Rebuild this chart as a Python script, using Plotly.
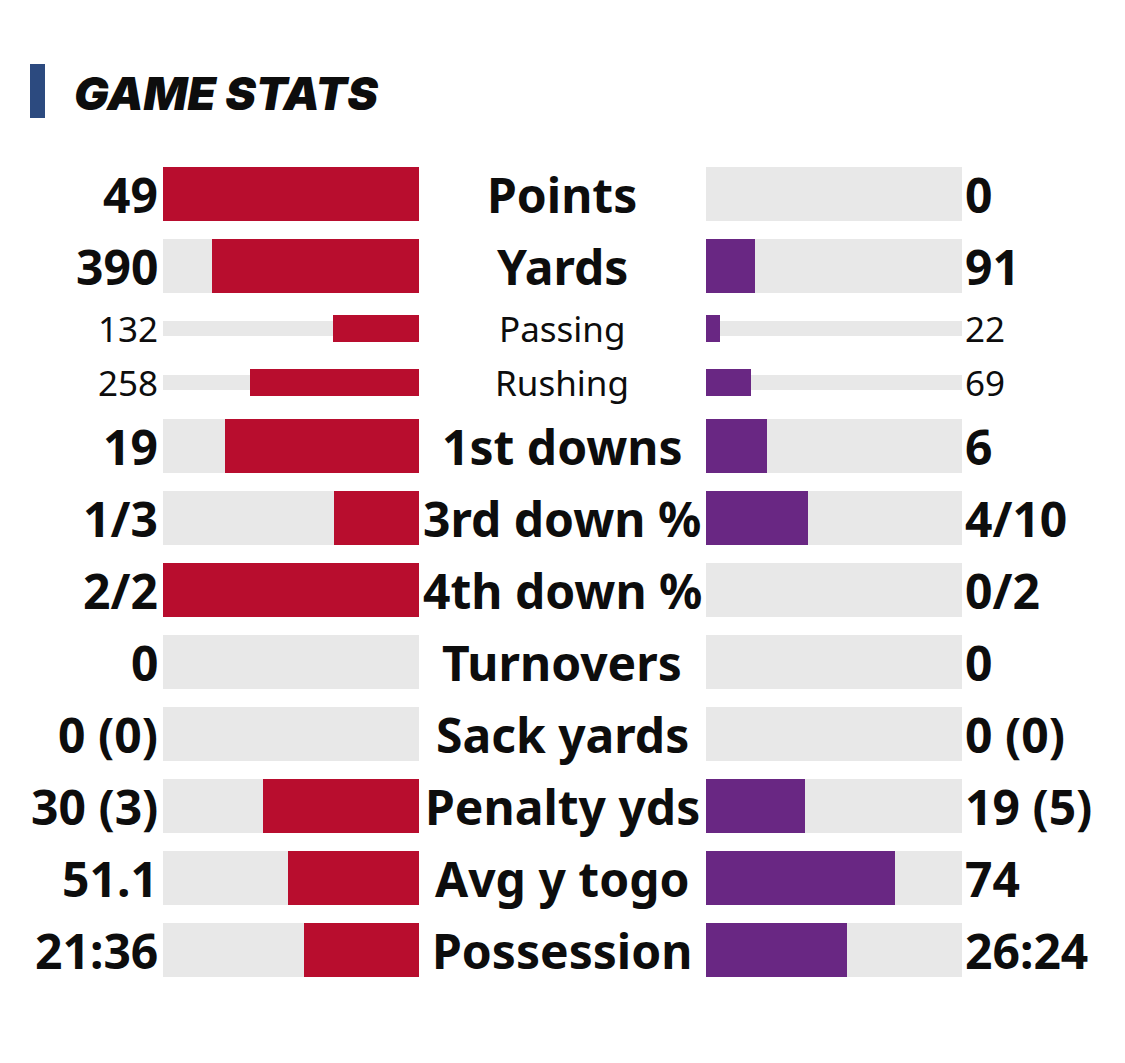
import plotly.graph_objects as go

# ---- data ----
labels = ["Points", "Yards", "Passing", "Rushing", "1st downs", "3rd down %",
          "4th down %", "Turnovers", "Sack yards", "Penalty yds", "Avg y togo", "Possession"]
left_text = ["49", "390", "132", "258", "19", "1/3", "2/2", "0", "0 (0)", "30 (3)", "51.1", "21:36"]
right_text = ["0", "91", "22", "69", "6", "4/10", "0/2", "0", "0 (0)", "19 (5)", "74", "26:24"]
left_share = [1.0, 0.81, 0.337, 0.66, 0.758, 0.333, 1.0, 0.0, 0.0, 0.61, 0.511, 0.45]
right_share = [0.0, 0.19, 0.056, 0.177, 0.24, 0.40, 0.0, 0.0, 0.0, 0.388, 0.74, 0.55]
is_sub = [False, False, True, True, False, False, False, False, False, False, False, False]

# ---- layout helpers (pixel geometry; page body adds an 8px offset) ----
OFF = 8
W, H = 1125 - OFF, 1063 - OFF
row_y = [194, 266, 328.5, 382.5, 446, 518, 590, 662, 734, 806, 878, 950]
row_y = [v - OFF for v in row_y]
bar_h = [27 if s else 54 for s in is_sub]
bg_h = [15 if s else 54 for s in is_sub]

def px(v):
    return (v - OFF) / W

def py(v):
    return 1 - (v - OFF) / H

RED = "#b80d2e"
PURPLE = "#692783"
GREY = "#e8e8e8"
INK = "#0d0d0d"

fig = go.Figure()
bg_vals = [1.0] * len(labels)
for xa in ("x", "x2"):
    fig.add_trace(go.Bar(y=row_y, x=bg_vals, width=bg_h, orientation="h",
                         marker=dict(color=GREY, line=dict(width=0)),
                         xaxis=xa, yaxis="y", hoverinfo="skip", showlegend=False))
fig.add_trace(go.Bar(y=row_y, x=left_share, width=bar_h, orientation="h",
                     marker=dict(color=RED, line=dict(width=0)),
                     xaxis="x", yaxis="y", showlegend=False, hovertext=left_text))
fig.add_trace(go.Bar(y=row_y, x=right_share, width=bar_h, orientation="h",
                     marker=dict(color=PURPLE, line=dict(width=0)),
                     xaxis="x2", yaxis="y", showlegend=False, hovertext=right_text))

ann = []
for i, lab in enumerate(labels):
    if is_sub[i]:
        f = dict(family="Noto Sans", size=35, color=INK, weight=400)
    else:
        f = dict(family="Noto Sans", size=48, color=INK, weight=700)
    ann.append(dict(x=px(160), y=row_y[i], xref="paper", yref="y", text=left_text[i],
                    xanchor="right", yanchor="middle", showarrow=False, font=f))
    ann.append(dict(x=px(562), y=row_y[i], xref="paper", yref="y", text=lab,
                    xanchor="center", yanchor="middle", showarrow=False, font=f))
    ann.append(dict(x=px(963), y=row_y[i], xref="paper", yref="y", text=right_text[i],
                    xanchor="left", yanchor="middle", showarrow=False, font=f))

ann.append(dict(x=px(72), y=py(93), xref="paper", yref="paper", text="GAME STATS",
                xanchor="left", yanchor="middle", showarrow=False,
                font=dict(family="Inter, Roboto, sans-serif", size=46, color=INK,
                          weight=900, style="italic")))

fig.update_layout(
    width=W, height=H,
    margin=dict(l=0, r=0, t=0, b=0),
    paper_bgcolor="white", plot_bgcolor="white",
    barmode="overlay", bargap=0,
    xaxis=dict(domain=[px(163), px(419)], range=[1, 0], visible=False, fixedrange=True),
    xaxis2=dict(domain=[px(706), px(962)], range=[0, 1], visible=False, fixedrange=True),
    yaxis=dict(domain=[0, 1], range=[H, 0], visible=False, fixedrange=True),
    annotations=ann,
    shapes=[dict(type="rect", xref="paper", yref="paper", x0=px(30), x1=px(45),
                 y0=py(64), y1=py(118), fillcolor="#2c4a7f", line=dict(width=0))],
)

fig.write_html("out.html")
